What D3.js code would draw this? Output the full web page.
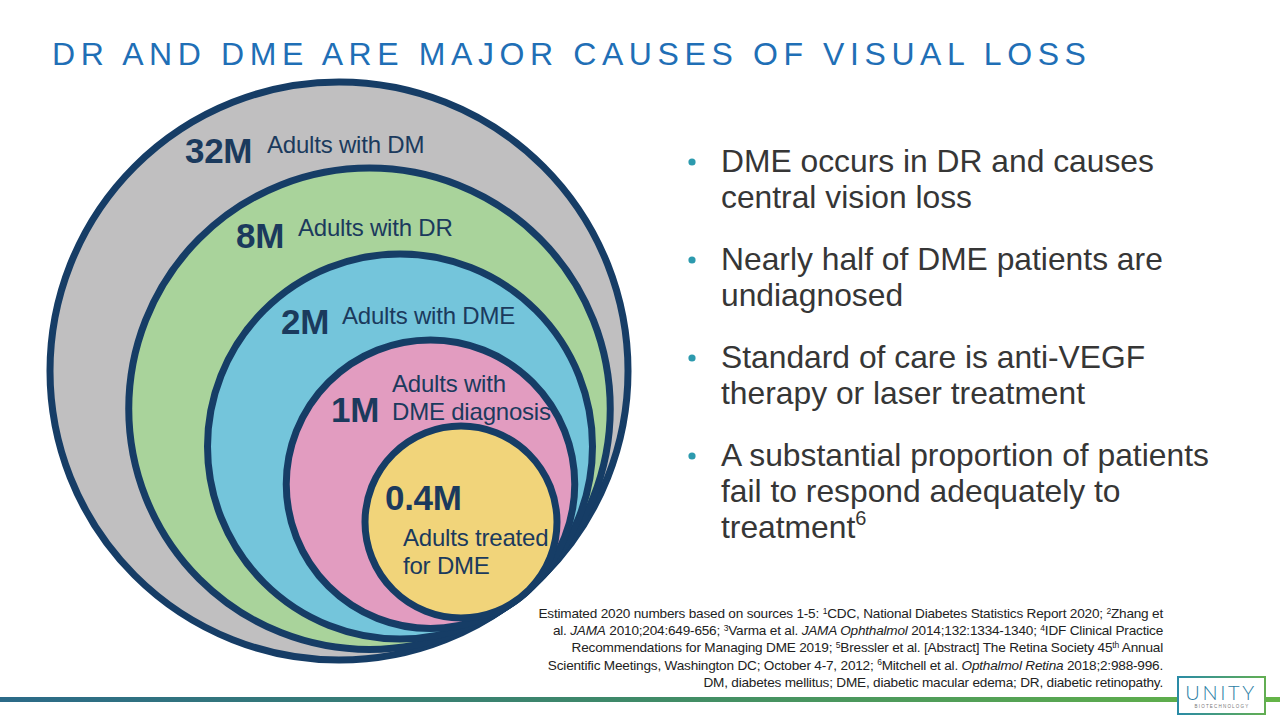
<!DOCTYPE html>
<html>
<head>
<meta charset="utf-8">
<script src="https://cdn.jsdelivr.net/npm/d3@7/dist/d3.min.js"></script>
<style>
  html, body { margin: 0; padding: 0; background: #ffffff; }
  svg { display: block; font-family: "Liberation Sans", Arial, Helvetica, sans-serif; }
</style>
</head>
<body>
<svg id="chart" width="1280" height="720"></svg>
<script>
// ---------------- DATA ----------------
const title = "DR AND DME ARE MAJOR CAUSES OF VISUAL LOSS";
const categories = ["Adults with DM", "Adults with DR", "Adults with DME", "Adults with DME diagnosis", "Adults treated for DME"];
const values = [32, 8, 2, 1, 0.4];               // millions of adults
const valueLabels = ["32M", "8M", "2M", "1M", "0.4M"];
const categoryLines = [["Adults with DM"], ["Adults with DR"], ["Adults with DME"], ["Adults with", "DME diagnosis"], ["Adults treated", "for DME"]];
const bullets = [
  ["DME occurs in DR and causes", "central vision loss"],
  ["Nearly half of DME patients are", "undiagnosed"],
  ["Standard of care is anti-VEGF", "therapy or laser treatment"],
  ["A substantial proportion of patients", "fail to respond adequately to", "treatment"]
];
const bulletSup = [null, null, null, "6"];
// footnote segments: [text, style] n=normal, i=italic, s=superscript
const footnotes = [
  [["Estimated 2020 numbers based on sources 1-5: ", "n"], ["1", "s"], ["CDC, National Diabetes Statistics Report 2020; ", "n"], ["2", "s"], ["Zhang et", "n"]],
  [["al. ", "n"], ["JAMA", "i"], [" 2010;204:649-656; ", "n"], ["3", "s"], ["Varma et al. ", "n"], ["JAMA Ophthalmol", "i"], [" 2014;132:1334-1340; ", "n"], ["4", "s"], ["IDF Clinical Practice", "n"]],
  [["Recommendations for Managing DME 2019; ", "n"], ["5", "s"], ["Bressler et al. [Abstract] The Retina Society 45", "n"], ["th", "s"], [" Annual", "n"]],
  [["Scientific Meetings, Washington DC; October 4-7, 2012; ", "n"], ["6", "s"], ["Mitchell et al. ", "n"], ["Opthalmol Retina", "i"], [" 2018;2:988-996.", "n"]],
  [["DM, diabetes mellitus; DME, diabetic macular edema; DR, diabetic retinopathy.", "n"]]
];

// ---------------- STYLE / LAYOUT ----------------
const fills = ["#c0bfc0", "#a9d39b", "#74c5db", "#e29cc0", "#f1d47a"];
const strokeCol = "#163d66";
const labelCol = "#1b3a5d";
// label anchor layout (number x, number baseline, text x, first text baseline)
const labelLayout = [
  { nx: 185, ny: 163, tx: 267, ty: 153 },
  { nx: 236, ny: 248, tx: 298, ty: 236 },
  { nx: 281, ny: 334, tx: 342, ty: 324 },
  { nx: 331, ny: 422, tx: 392, ty: 392 },
  { nx: 385, ny: 510, tx: 403, ty: 546 }
];

const svg = d3.select("#chart");
svg.append("rect").attr("width", 1280).attr("height", 720).attr("fill", "#ffffff");

// title
svg.append("text")
  .attr("x", 52).attr("y", 65)
  .attr("font-size", 32).attr("letter-spacing", 5.6)
  .attr("fill", "#1f6fb6")
  .text(title);

// ---------------- NESTED CIRCLES ----------------
const rScale = d3.scalePoint().domain(categories).range([289, 96]);
const cxScale = d3.scalePoint().domain(categories).range([339, 461]);
const cyScale = d3.scalePoint().domain(categories).range([371, 522]);

const data = categories.map((c, i) => ({ cat: c, value: values[i], label: valueLabels[i], lines: categoryLines[i], fill: fills[i], lay: labelLayout[i] }));

svg.append("g").selectAll("circle")
  .data(data).join("circle")
  .attr("cx", d => cxScale(d.cat))
  .attr("cy", d => cyScale(d.cat))
  .attr("r", d => rScale(d.cat))
  .attr("fill", d => d.fill)
  .attr("stroke", strokeCol)
  .attr("stroke-width", 7);

const lg = svg.append("g").attr("fill", labelCol);
data.forEach((d, i) => {
  lg.append("text")
    .attr("x", d.lay.nx).attr("y", d.lay.ny)
    .attr("font-size", 35).attr("font-weight", "bold")
    .attr("letter-spacing", -0.3)
    .text(d.label);
  d.lines.forEach((ln, j) => {
    lg.append("text")
      .attr("x", d.lay.tx).attr("y", d.lay.ty + j * 27.5)
      .attr("font-size", 24)
      .attr("letter-spacing", -0.2)
      .text(ln);
  });
});

// ---------------- BULLETS ----------------
const bg = svg.append("g");
const bulletTop = 172, lineH = 36, groupH = 98;
bullets.forEach((lines, i) => {
  const y0 = bulletTop + i * groupH;
  bg.append("circle").attr("cx", 692).attr("cy", y0 - 10).attr("r", 3.6).attr("fill", "#2c9aae");
  lines.forEach((ln, j) => {
    const t = bg.append("text")
      .attr("x", 721).attr("y", y0 + j * lineH)
      .attr("font-size", 31.8).attr("fill", "#363636")
      .text(ln);
    if (j === lines.length - 1 && bulletSup[i]) {
      t.append("tspan").attr("font-size", 20).attr("dy", -13).text(bulletSup[i]);
    }
  });
});

// ---------------- FOOTNOTE ----------------
const fg = svg.append("g").attr("fill", "#222222");
footnotes.forEach((segs, i) => {
  const t = fg.append("text")
    .attr("x", 1163).attr("y", 618 + i * 17.2)
    .attr("text-anchor", "end")
    .attr("font-size", 13.6)
    .attr("letter-spacing", -0.2);
  let raised = false;
  segs.forEach(([txt, st]) => {
    const ts = t.append("tspan").text(txt);
    if (st === "s") {
      ts.attr("font-size", 8.5).attr("dy", raised ? 0 : -4.5);
      raised = true;
    } else {
      if (raised) { ts.attr("dy", 4.5); raised = false; }
      if (st === "i") ts.attr("font-style", "italic");
    }
  });
});

// ---------------- BOTTOM BAR + LOGO ----------------
const defs = svg.append("defs");
const grad = defs.append("linearGradient").attr("id", "barGrad").attr("x1", "0%").attr("x2", "100%");
grad.append("stop").attr("offset", "0%").attr("stop-color", "#2b6a88");
grad.append("stop").attr("offset", "50%").attr("stop-color", "#3f8a68");
grad.append("stop").attr("offset", "100%").attr("stop-color", "#64b447");
svg.append("rect").attr("x", 0).attr("y", 697).attr("width", 1280).attr("height", 5).attr("fill", "url(#barGrad)");

const lgrad = defs.append("linearGradient").attr("id", "logoGrad").attr("x1", "0%").attr("x2", "100%");
lgrad.append("stop").attr("offset", "0%").attr("stop-color", "#2a8ba6");
lgrad.append("stop").attr("offset", "100%").attr("stop-color", "#62ae52");
svg.append("rect").attr("x", 1178).attr("y", 677).attr("width", 87).attr("height", 37)
  .attr("fill", "#ffffff").attr("stroke", "url(#logoGrad)").attr("stroke-width", 2);
svg.append("text").attr("x", 1221).attr("y", 700).attr("text-anchor", "middle")
  .attr("font-size", 20).attr("font-weight", 300).attr("letter-spacing", 2.6)
  .attr("fill", "#2c7ea4").attr("font-family", "Lato, 'Open Sans', sans-serif").text("UNITY");
svg.append("text").attr("x", 1222).attr("y", 708).attr("text-anchor", "middle")
  .attr("font-size", 4.5).attr("letter-spacing", 1.2)
  .attr("fill", "#777777").text("BIOTECHNOLOGY");
</script>
</body>
</html>
